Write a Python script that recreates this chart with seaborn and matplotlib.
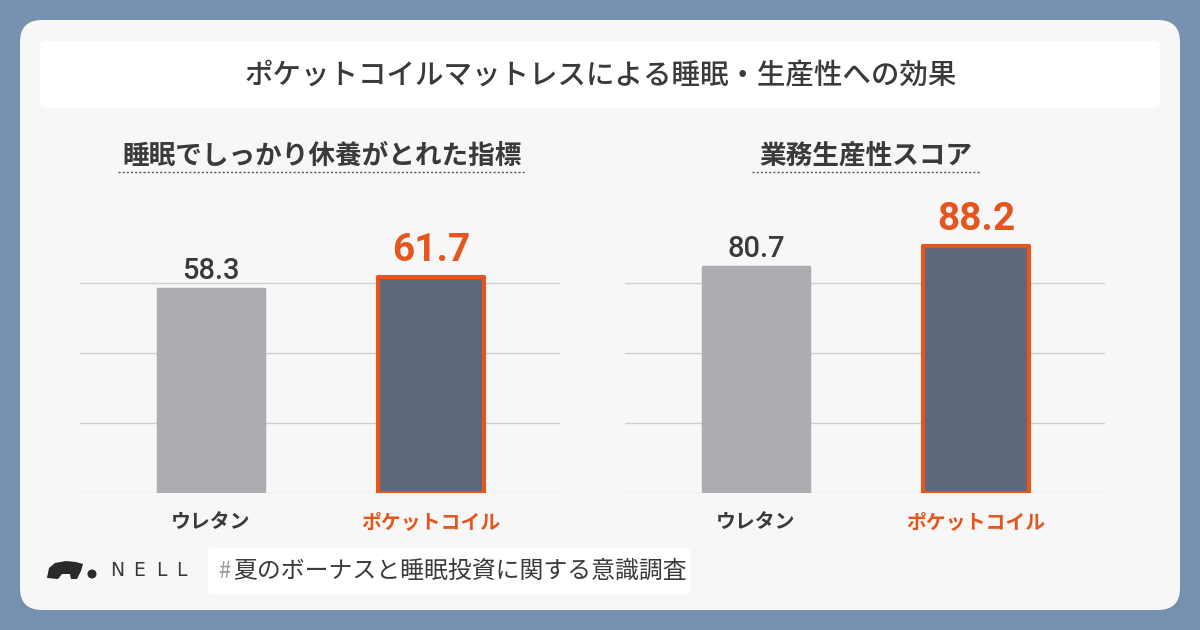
import matplotlib
matplotlib.use("Agg")
import matplotlib.pyplot as plt
import seaborn as sns
import pandas as pd
from matplotlib.patches import FancyBboxPatch, Polygon, Circle

# ---------------- data ----------------
categories = ["ウレタン", "ポケットコイル"]
sleep_values = [58.3, 61.7]
productivity_values = [80.7, 88.2]
panel_titles = ["睡眠でしっかり休養がとれた指標", "業務生産性スコア"]
main_title = "ポケットコイルマットレスによる睡眠・生産性への効果"
footer_tag = "夏のボーナスと睡眠投資に関する意識調査"
sleep_ticks = [0, 20, 40, 60]
prod_ticks = [0, 25, 50, 75]

# ---------------- style ----------------
sns.set_theme(style="white")
plt.rcParams['font.family'] = ['Noto Sans CJK JP', 'DejaVu Sans']

BG = "#7690b0"
CARD = "#f7f7f7"
TXT = "#3a3a3a"
ORANGE = "#e5561e"
GREY_BAR = "#adacb0"
DARK_BAR = "#5f677a"
GRID = "#cfcfcf"
NUMFONT = ['Roboto', 'DejaVu Sans']

W, H = 1200, 630
fig = plt.figure(figsize=(12, 6.3), dpi=100)
fig.patch.set_facecolor(BG)

# background layer in pixel coordinates
bg = fig.add_axes([0, 0, 1, 1])
bg.set_xlim(0, W)
bg.set_ylim(H, 0)
bg.axis("off")
bg.set_zorder(0)

bg.add_patch(FancyBboxPatch((20, 20), 1160, 590, boxstyle="round,pad=0,rounding_size=22",
                            fc=CARD, ec="none"))
bg.add_patch(FancyBboxPatch((40, 41), 1120, 67, boxstyle="round,pad=0,rounding_size=6",
                            fc="white", ec="none"))
bg.text(601, 75, main_title, ha="center", va="center", fontsize=20.5,
        fontweight="medium", color=TXT)

# panel subtitles with dotted underline
bg.text(322, 156, panel_titles[0], ha="center", va="center", fontsize=19.2,
        fontweight="bold", color=TXT)
bg.plot([118, 525], [172, 172], ls=(0, (1.5, 1.5)), color="#555555", lw=1)
bg.text(866, 156, panel_titles[1], ha="center", va="center", fontsize=19.2,
        fontweight="bold", color=TXT)
bg.plot([752, 980], [172, 172], ls=(0, (1.5, 1.5)), color="#555555", lw=1)

# footer: logo + hashtag
bg.add_patch(Polygon([[47, 578], [49, 568], [55, 563], [66, 561], [76, 562], [83, 564],
                      [81, 571], [77, 579], [71, 579], [70, 574], [62, 574], [58, 579]],
                     closed=True, fc="#2a2a2a", ec="none"))
bg.add_patch(Circle((92, 574), 4.5, fc="#2a2a2a", ec="none"))
for ch, xx in zip("NELL", [117, 139, 161, 181]):
    bg.text(xx, 571, ch, ha="center", va="center", fontsize=13.5, color=TXT,
            family=['DejaVu Sans'])
bg.add_patch(FancyBboxPatch((208, 548), 482, 46, boxstyle="round,pad=0,rounding_size=4",
                            fc="white", ec="none"))
bg.text(218, 571, "#", ha="left", va="center", fontsize=16, color="#9a9a9a")
bg.text(233, 571, footer_tag, ha="left", va="center", fontsize=17.2, color=TXT)


def panel(left_px, values, ticks, ymax):
    top_px, bottom_px = 200, 493
    ax = fig.add_axes([left_px / W, 1 - bottom_px / H, 480 / W, (bottom_px - top_px) / H])
    ax.set_zorder(2)
    ax.set_facecolor("none")
    df = pd.DataFrame({"cat": categories, "val": values})
    sns.barplot(data=df, x="cat", y="val", hue="cat", palette=[GREY_BAR, DARK_BAR],
                width=0.48, legend=False, ax=ax, saturation=1)
    ax.set_xlim(-131 / 220, 1 + 129 / 220)
    ax.set_ylim(0, ymax)
    ax.set_yticks(ticks)
    ax.yaxis.grid(True, color=GRID, lw=1)
    ax.set_axisbelow(True)
    for s in ax.spines.values():
        s.set_visible(False)
    ax.tick_params(axis="y", left=False, labelleft=False)
    ax.tick_params(axis="x", bottom=False, pad=7)
    ax.set_xlabel("")
    ax.set_ylabel("")
    labels = ax.get_xticklabels()
    for i, lab in enumerate(labels):
        lab.set_fontsize(14.3)
        lab.set_fontweight("bold")
        lab.set_color(ORANGE if i == 1 else TXT)
    for p in ax.patches:
        cx = p.get_x() + p.get_width() / 2
        idx = int(round(cx))
        val = values[idx]
        p.set_joinstyle("round")
        if idx == 1:
            p.set_edgecolor(ORANGE)
            p.set_linewidth(3)
            ax.annotate(f"{val:.1f}", (cx, val), xytext=(0, 11.5), textcoords="offset points",
                        ha="center", va="baseline", fontsize=28, fontweight="bold",
                        color=ORANGE, family=NUMFONT)
        else:
            p.set_edgecolor(GREY_BAR)
            p.set_linewidth(2.5)
            ax.annotate(f"{val:.1f}", (cx, val), xytext=(0, 7.5), textcoords="offset points",
                        ha="center", va="baseline", fontsize=21, fontweight="medium",
                        color=TXT, family=NUMFONT)
    return ax


panel(80, sleep_values, sleep_ticks, 293 / 3.5)
panel(625, productivity_values, prod_ticks, 293 / 2.8)

fig.savefig("out.png", dpi=100, facecolor=BG)
